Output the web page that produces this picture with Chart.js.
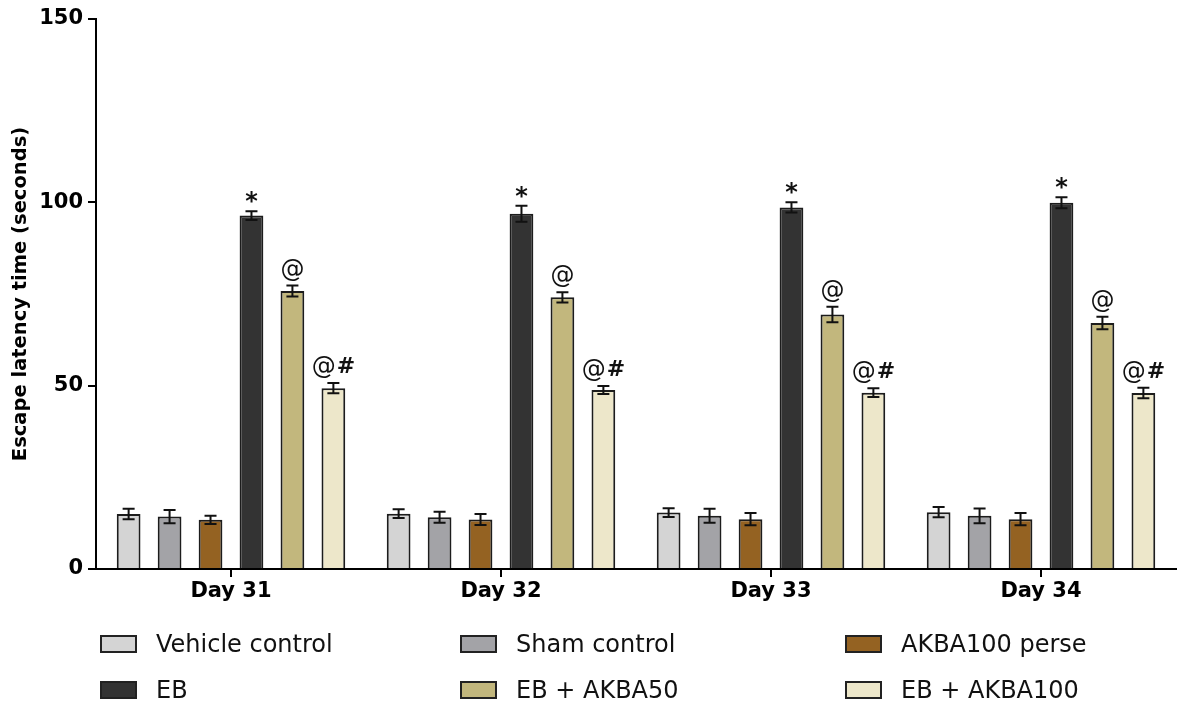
<!DOCTYPE html>
<html>
<head>
<meta charset="utf-8">
<script src="https://cdn.jsdelivr.net/npm/chart.js@4"></script>
<style>
  html, body { margin: 0; padding: 0; background: #fff; }
  #wrap { position: relative; width: 1186px; height: 704px; }
  #legend { position: absolute; left: 0; top: 0; width: 1186px; height: 704px; pointer-events: none;
            font-family: "DejaVu Sans", sans-serif; font-size: 24px; color: #111; }
  .item { position: absolute; display: flex; align-items: center; transform: translateY(-50%); }
  .box { width: 33px; height: 14px; border: 2px solid #222; margin-right: 19px; }
</style>
</head>
<body>
<div id="wrap">
  <canvas id="chart" width="1186" height="704"></canvas>
  <div id="legend"></div>
</div>
<script>
const days = ['Day 31', 'Day 32', 'Day 33', 'Day 34'];
const seriesNames = ['Vehicle control', 'Sham control', 'AKBA100 perse', 'EB', 'EB + AKBA50', 'EB + AKBA100'];
const colors = ['#d4d4d4', '#a3a3a7', '#946222', '#333333', '#c2b77d', '#ede7ca'];

const vehicle = [15.0, 15.1, 15.4, 15.5];
const sham = [14.3, 14.1, 14.5, 14.5];
const akba100Perse = [13.4, 13.5, 13.6, 13.6];
const eb = [96.4, 96.9, 98.6, 99.9];
const ebAkba50 = [75.8, 74.1, 69.4, 67.1];
const ebAkba100 = [49.3, 48.8, 48.1, 48.0];

const vehicleErr = [1.4, 1.2, 1.2, 1.4];
const shamErr = [1.8, 1.5, 1.9, 2.0];
const akba100PerseErr = [1.1, 1.5, 1.7, 1.7];
const ebErr = [1.2, 2.2, 1.4, 1.5];
const ebAkba50Err = [1.5, 1.4, 2.1, 1.7];
const ebAkba100Err = [1.4, 1.1, 1.2, 1.4];

const marks = ['', '', '', '*', '@', '@#'];
const yTicks = [0, 50, 100, 150];

const values = [vehicle, sham, akba100Perse, eb, ebAkba50, ebAkba100];
const errors = [vehicleErr, shamErr, akba100PerseErr, ebErr, ebAkba50Err, ebAkba100Err];

// error bars and significance marks
const errorBars = {
    id: 'errorBars',
    afterDatasetsDraw(chart) {
        const ctx = chart.ctx;
        const y = chart.scales.y;
        ctx.save();
        chart.data.datasets.forEach((ds, i) => {
            const meta = chart.getDatasetMeta(i);
            meta.data.forEach((bar, j) => {
                const v = ds.data[j], e = errors[i][j];
                const top = y.getPixelForValue(v + e);
                const bot = y.getPixelForValue(v - e);
                ctx.strokeStyle = '#111';
                ctx.lineWidth = 2;
                ctx.beginPath();
                ctx.moveTo(bar.x, top); ctx.lineTo(bar.x, bot);
                ctx.moveTo(bar.x - 6, top); ctx.lineTo(bar.x + 6, top);
                ctx.moveTo(bar.x - 6, bot); ctx.lineTo(bar.x + 6, bot);
                ctx.stroke();

                const m = marks[i];
                if (!m) return;
                ctx.fillStyle = '#111';
                ctx.textBaseline = 'alphabetic';
                if (m === '*') {
                    ctx.font = 'bold 24px "DejaVu Sans"';
                    ctx.textAlign = 'center';
                    ctx.fillText('*', bar.x, top - 2);
                } else {
                    ctx.font = '24px "DejaVu Sans"';
                    const wAt = ctx.measureText('@').width;
                    ctx.font = 'bold 22px "DejaVu Sans"';
                    const wHash = m.length > 1 ? ctx.measureText('#').width + 1 : 0;
                    const x0 = bar.x - (wAt + wHash) / 2;
                    ctx.textAlign = 'left';
                    ctx.font = '24px "DejaVu Sans"';
                    ctx.fillText('@', x0, top - 9);
                    if (wHash) {
                        ctx.font = 'bold 22px "DejaVu Sans"';
                        ctx.fillText('#', x0 + wAt + 1, top - 10);
                    }
                }
            });
        });
        ctx.restore();
    }
};

const ctx = document.getElementById('chart').getContext('2d');
new Chart(ctx, {
    type: 'bar',
    data: {
        labels: days,
        datasets: seriesNames.map((name, i) => ({
            label: name,
            data: values[i],
            backgroundColor: colors[i],
            borderColor: '#1c1c1c',
            borderWidth: 2,
            categoryPercentage: 0.91,
            barPercentage: 0.58
        }))
    },
    options: {
        responsive: false,
        animation: false,
        layout: { padding: { left: 0, right: 10, top: 19, bottom: 95 } },
        plugins: { legend: { display: false }, tooltip: { enabled: false } },
        scales: {
            x: {
                grid: { offset: false, drawOnChartArea: false, drawTicks: true, tickLength: 8, color: '#000', lineWidth: 2 },
                border: { display: true, color: '#000', width: 2 },
                ticks: { color: '#000', font: { family: 'DejaVu Sans', weight: 'bold', size: 21 }, padding: 2 },
                afterFit(s) { s.height = 40; }
            },
            y: {
                min: 0,
                max: 150,
                afterBuildTicks(s) { s.ticks = yTicks.map(v => ({ value: v })); },
                grid: { drawOnChartArea: false, drawTicks: true, tickLength: 8, color: '#000', lineWidth: 2 },
                border: { display: true, color: '#000', width: 2 },
                ticks: { color: '#000', font: { family: 'DejaVu Sans', weight: 'bold', size: 21 }, padding: 5 },
                title: {
                    display: true,
                    text: 'Escape latency time (seconds)',
                    color: '#000',
                    font: { family: 'DejaVu Sans', weight: 'bold', size: 19.5 },
                    padding: { top: 9, bottom: 0 }
                },
                afterFit(s) { s.width = 96; }
            }
        }
    },
    plugins: [errorBars]
});

// legend laid out in three columns like the original
const legendPos = [[100, 644], [460, 644], [845, 644], [100, 690], [460, 690], [845, 690]];
const legend = document.getElementById('legend');
seriesNames.forEach((name, i) => {
    const d = document.createElement('div');
    d.className = 'item';
    d.style.left = legendPos[i][0] + 'px';
    d.style.top = legendPos[i][1] + 'px';
    d.innerHTML = '<span class="box" style="background:' + colors[i] + '"></span><span>' + name + '</span>';
    legend.appendChild(d);
});
</script>
</body>
</html>
